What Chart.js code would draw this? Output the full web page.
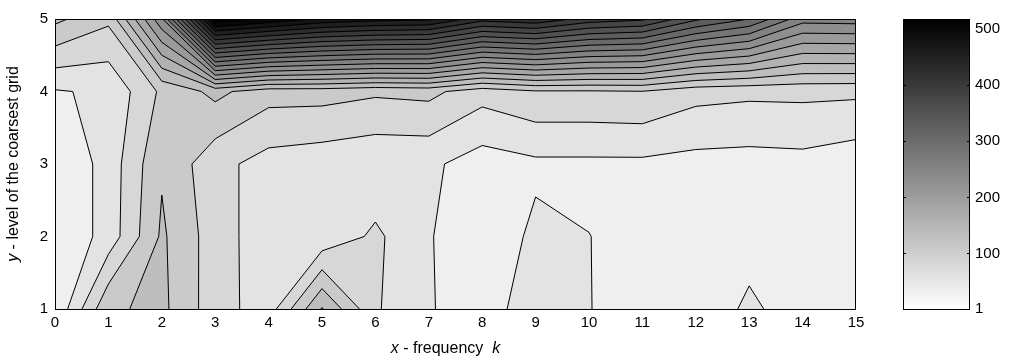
<!DOCTYPE html>
<html>
<head>
<meta charset="utf-8">
<script src="https://cdn.jsdelivr.net/npm/chart.js@4.4.1/dist/chart.umd.min.js"></script>
<style>
  html, body { margin: 0; padding: 0; background: #fff; }
  #wrap { width: 1011px; height: 358px; }
</style>
</head>
<body>
<div id="wrap"><canvas id="contour-chart"></canvas></div>
<script>
// grid axes
const xFrequency = [0, 1, 2, 3, 4, 5, 6, 7, 8, 9, 10, 11, 12, 13, 14, 15];
const yLevel = [1, 2, 3, 4, 5];

// values on the grid, one row per level of the coarsest grid
const zLevel1 = [3, 96, 106, 61, 37, 127, 53, 26, 18, 33, 25.3, 20, 14, 28, 17, 15];
const zLevel2 = [1, 35, 104, 62, 35, 31, 55, 27, 5, 31, 25.3, 18, 17, 18.6, 15, 12];
const zLevel3 = [1, 35, 97, 58, 40, 35, 30, 30, 13, 20, 20, 20, 16.6, 15.4, 17, 9.7];
const zLevel4 = [23, 29, 80, 107, 85, 85, 79, 82, 60, 72, 72, 74, 58.6, 55.4, 56, 55];
const zLevel5 = [106, 80, 220, 518, 495, 470, 460, 455, 410, 420, 390, 380, 330, 300, 235, 237];

const contourLevels = [25, 50, 75, 100, 125, 150, 175, 200, 225, 250,
                       275, 300, 325, 350, 375, 400, 425, 450, 475, 500];
const colorbarTicks = [1, 100, 200, 300, 400, 500];
const colorMin = 1;
const colorMax = 518;

const gridValues = [zLevel1, zLevel2, zLevel3, zLevel4, zLevel5];
const FONT = '"Liberation Sans", Arial, sans-serif';

// gray for the band above k contour levels (inverted gray map)
function bandGray(k) {
    const g = Math.max(0, Math.round(255 * (1 - (4 + 3 * k) / 63)));
    return `rgb(${g},${g},${g})`;
}

function cellCorners(i, j) {
    return [
        {x: xFrequency[i],     y: yLevel[j],     z: gridValues[j][i]},
        {x: xFrequency[i + 1], y: yLevel[j],     z: gridValues[j][i + 1]},
        {x: xFrequency[i + 1], y: yLevel[j + 1], z: gridValues[j + 1][i + 1]},
        {x: xFrequency[i],     y: yLevel[j + 1], z: gridValues[j + 1][i]}
    ];
}

function crossing(a, b, level) {
    const t = (level - a.z) / (b.z - a.z);
    return {x: a.x + t * (b.x - a.x), y: a.y + t * (b.y - a.y)};
}

// part of a cell where z >= level
function superlevelPolygon(c, level) {
    const pts = [];
    for (let n = 0; n < 4; n++) {
        const a = c[n], b = c[(n + 1) % 4];
        if (a.z >= level) pts.push(a);
        if ((a.z >= level) !== (b.z >= level)) pts.push(crossing(a, b, level));
    }
    return pts;
}

// marching squares segments of one level inside a cell
function isoSegments(c, level) {
    const e = [];
    for (let n = 0; n < 4; n++) {
        const a = c[n], b = c[(n + 1) % 4];
        e.push((a.z >= level) !== (b.z >= level) ? crossing(a, b, level) : null);
    }
    const hits = e.filter(p => p);
    if (hits.length === 2) return [[hits[0], hits[1]]];
    if (hits.length === 4) {
        const centre = (c[0].z + c[1].z + c[2].z + c[3].z) / 4;
        if ((c[0].z >= level) === (centre >= level)) return [[e[0], e[1]], [e[2], e[3]]];
        return [[e[3], e[0]], [e[1], e[2]]];
    }
    return [];
}

const contourPlugin = {
    id: 'contourFill',
    beforeDatasetsDraw(chart) {
        const {ctx, chartArea, scales: {x, y}} = chart;
        const px = p => x.getPixelForValue(p.x);
        const py = p => y.getPixelForValue(p.y);
        ctx.save();
        ctx.beginPath();
        ctx.rect(chartArea.left, chartArea.top, chartArea.width, chartArea.height);
        ctx.clip();

        // lowest band over the whole grid
        const x0 = x.getPixelForValue(xFrequency[0]), x1 = x.getPixelForValue(xFrequency[xFrequency.length - 1]);
        const y0 = y.getPixelForValue(yLevel[0]), y1 = y.getPixelForValue(yLevel[yLevel.length - 1]);
        ctx.fillStyle = bandGray(0);
        ctx.fillRect(x0, y1, x1 - x0, y0 - y1);

        ctx.lineWidth = 1;
        ctx.lineJoin = 'round';
        contourLevels.forEach((level, k) => {
            ctx.fillStyle = bandGray(k + 1);
            ctx.strokeStyle = bandGray(k + 1);
            for (let j = 0; j < yLevel.length - 1; j++) {
                for (let i = 0; i < xFrequency.length - 1; i++) {
                    const poly = superlevelPolygon(cellCorners(i, j), level);
                    if (poly.length < 3) continue;
                    ctx.beginPath();
                    poly.forEach((p, n) => n ? ctx.lineTo(px(p), py(p)) : ctx.moveTo(px(p), py(p)));
                    ctx.closePath();
                    ctx.fill();
                    ctx.stroke();
                }
            }
        });

        // contour lines
        ctx.strokeStyle = '#000';
        ctx.lineWidth = 1;
        contourLevels.forEach(level => {
            ctx.beginPath();
            for (let j = 0; j < yLevel.length - 1; j++) {
                for (let i = 0; i < xFrequency.length - 1; i++) {
                    isoSegments(cellCorners(i, j), level).forEach(([a, b]) => {
                        ctx.moveTo(px(a), py(a));
                        ctx.lineTo(px(b), py(b));
                    });
                }
            }
            ctx.stroke();
        });
        ctx.restore();
    },
    afterDatasetsDraw(chart) {
        const {ctx, chartArea} = chart;
        ctx.save();
        ctx.strokeStyle = '#000';
        ctx.lineWidth = 1;
        ctx.strokeRect(Math.round(chartArea.left) + 0.5, Math.round(chartArea.top) + 0.5,
                       Math.round(chartArea.width) - 1, Math.round(chartArea.height));
        ctx.restore();
    }
};

const colorbarPlugin = {
    id: 'colorbar',
    afterDraw(chart) {
        const {ctx} = chart;
        const cb = chart.scales.cb;
        const top = cb.getPixelForValue(colorMax);
        const bottom = cb.getPixelForValue(colorMin);
        const left = cb.left + 47;
        const right = cb.left + 114;
        ctx.save();
        const grad = ctx.createLinearGradient(0, bottom, 0, top);
        grad.addColorStop(0, '#ffffff');
        grad.addColorStop(1, '#000000');
        ctx.fillStyle = grad;
        ctx.fillRect(left, top, right - left, bottom - top);
        ctx.strokeStyle = '#000';
        ctx.lineWidth = 1;
        ctx.strokeRect(left + 0.5, top + 0.5, right - left - 1, bottom - top);
        colorbarTicks.forEach(v => {
            const yy = Math.round(cb.getPixelForValue(v)) + 0.5;
            ctx.beginPath();
            ctx.moveTo(left, yy); ctx.lineTo(left + 3, yy);
            ctx.moveTo(right, yy); ctx.lineTo(right - 3, yy);
            ctx.stroke();
        });
        ctx.restore();
    }
};

// axis titles with italic variable names
function drawParts(ctx, parts, startX, baseY) {
    let cx = startX;
    parts.forEach(([text, italic]) => {
        ctx.font = `${italic ? 'italic ' : ''}16px ${FONT}`;
        ctx.fillText(text, cx, baseY);
        cx += ctx.measureText(text).width;
    });
}
function partsWidth(ctx, parts) {
    return parts.reduce((w, [text, italic]) => {
        ctx.font = `${italic ? 'italic ' : ''}16px ${FONT}`;
        return w + ctx.measureText(text).width;
    }, 0);
}

const titlePlugin = {
    id: 'axisTitles',
    afterDraw(chart) {
        const {ctx, chartArea} = chart;
        ctx.save();
        ctx.fillStyle = '#000';
        ctx.textBaseline = 'alphabetic';
        const xParts = [['x', true], [' - frequency  ', false], ['k', true]];
        const midX = (chartArea.left + chartArea.right) / 2 - 10;
        drawParts(ctx, xParts, midX - partsWidth(ctx, xParts) / 2, 353);

        const yParts = [['y', true], [' - level of the coarsest grid', false]];
        const midY = (chartArea.top + chartArea.bottom) / 2;
        ctx.translate(18, midY);
        ctx.rotate(-Math.PI / 2);
        drawParts(ctx, yParts, -partsWidth(ctx, yParts) / 2, 0);
        ctx.restore();
    }
};

const tickFont = {family: FONT, size: 15};

new Chart(document.getElementById('contour-chart'), {
    type: 'scatter',
    data: {datasets: []},
    options: {
        responsive: true,
        maintainAspectRatio: false,
        animation: false,
        layout: {padding: {top: 19, left: 0, right: 0, bottom: 0}},
        plugins: {legend: {display: false}, tooltip: {enabled: false}},
        scales: {
            x: {
                type: 'linear', position: 'bottom', min: 0, max: 15,
                ticks: {stepSize: 1, color: '#000', font: tickFont, padding: 5, maxRotation: 0},
                grid: {display: false, drawTicks: false},
                border: {display: false},
                afterFit: s => { s.height = 49; }
            },
            y: {
                type: 'linear', position: 'left', min: 1, max: 5,
                ticks: {stepSize: 1, color: '#000', font: tickFont, padding: 7},
                grid: {display: false, drawTicks: false},
                border: {display: false},
                afterFit: s => { s.width = 55; }
            },
            cb: {
                type: 'linear', position: 'right', min: colorMin, max: colorMax,
                afterBuildTicks: s => { s.ticks = colorbarTicks.map(v => ({value: v})); },
                ticks: {color: '#000', font: tickFont, padding: 119},
                grid: {display: false, drawTicks: false},
                border: {display: false},
                afterFit: s => { s.width = 155; s.paddingTop = 0; s.paddingBottom = 0; }
            }
        }
    },
    plugins: [contourPlugin, colorbarPlugin, titlePlugin]
});
</script>
</body>
</html>
